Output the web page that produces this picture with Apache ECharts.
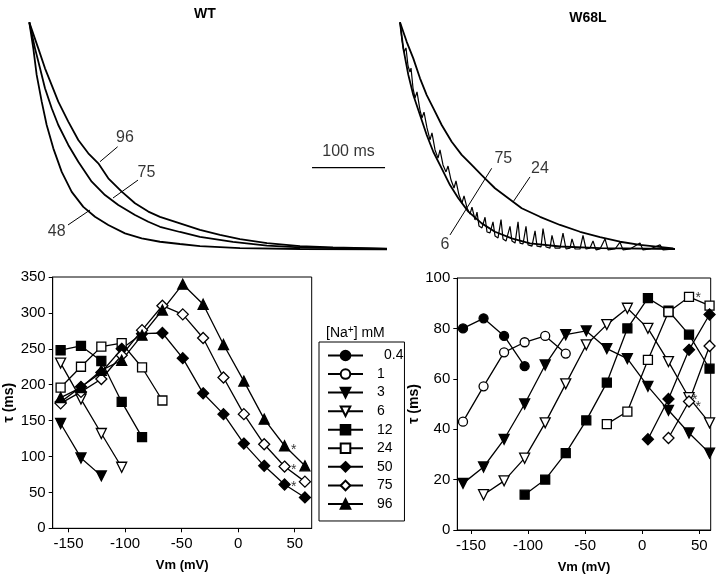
<!DOCTYPE html>
<html><head><meta charset="utf-8">
<script src="https://cdn.jsdelivr.net/npm/echarts@6/dist/echarts.min.js"></script>
<style>html,body{margin:0;padding:0;background:#fff}#c{width:720px;height:584px}</style>
</head><body><div id="c"></div>
<script>
// ---------- data ----------
const V = [-157,-139,-121,-103,-85,-67,-49,-31,-13,5,23,41,59];
const xTicks = [-150,-100,-50,0,50];
const naNames = ['0.4','1','3','6','12','24','50','75','96'];

// WT tau (ms)
const wt3  = [146, 98, 73];
const wt6  = [230, 180, 132, 85];
const wt12 = [248, 254, 233, 176, 127];
const wt24 = [196, 225, 253, 258, 224, 178];
const wt50 = [176, 197, 217, 250, 271, 272, 237, 188, 159, 118, 87, 61, 43];
const wt75 = [174, 190, 208, 241, 276, 310, 298, 265, 210, 159, 117, 86, 65];
const wt96 = [182, 196, 220, 234, 269, 304, 340, 312, 256, 205, 152, 115, 87];
const wtStars = [[49,115],[49,87],[49,63]];

// W68L tau (ms)
const m04 = [80, 84, 77, 65];
const m1  = [43, 57, 70.5, 74.5, 77, 70];
const m3  = [18.5, 25, 36, 50, 65.5, 77.5, 79, 72, 68, 57, 47.5, 38.5, 30.5];
const m6  = [null, 14, 19.5, 28.5, 42.5, 58, 73.5, 81.5, 88, 80, 66.8, 52.5, 42.5];
const m12 = [null, null, null, 14, 20, 30.5, 43.5, 58.5, 80, 92, 87, 77.5, 64];
const m24 = [null, null, null, null, null, null, null, 42, 47, 67.5, 86.5, 92.5, 89];
const m50 = [null, null, null, null, null, null, null, null, null, 36, 52, 71.5, 85.5];
const m75 = [null, null, null, null, null, null, null, null, null, null, 36.5, 51, 73];
const mStars = [[49,93.5],[46,53],[49,50.5]];

// current traces: [time (ms), normalized current]
const wtTrace96 = [[0,1],[12.3,0.885],[21.5,0.797],[30.7,0.723],[39.7,0.65],[53.4,0.562],[67.1,0.481],[80.8,0.422],[94.5,0.378],[108.2,0.312],[126.6,0.253],[144.8,0.202],[163,0.165],[179,0.142],[206.4,0.113],[233.8,0.084],[261.2,0.062],[288.6,0.044],[325.6,0.026],[370.8,0.013],[416,0.007],[490,0.002]];
const wtTrace75 = [[0,1],[7.8,0.885],[14.7,0.797],[21.5,0.709],[30.7,0.621],[39.7,0.547],[53.4,0.459],[67.1,0.385],[85.5,0.297],[103.7,0.238],[121.9,0.194],[144.8,0.15],[163,0.12],[179,0.098],[206.4,0.075],[233.8,0.053],[279,0.031],[325.6,0.015],[370.8,0.007],[490,0]];
const wtTrace48 = [[0,1],[5.5,0.885],[10.1,0.768],[17,0.65],[23.8,0.547],[32.9,0.444],[44.4,0.34],[58.1,0.252],[74,0.186],[90,0.142],[108.2,0.106],[131.1,0.069],[154,0.047],[179,0.032],[206.4,0.022],[233.8,0.013],[288.6,0.004],[370.8,0],[490,-0.002]];
const mTrace24 = [[0,1],[9.2,0.914],[18.2,0.841],[27.4,0.753],[36.6,0.679],[45.6,0.621],[57.1,0.547],[70.8,0.473],[84.5,0.415],[98.2,0.371],[111.9,0.326],[130.1,0.268],[148.4,0.224],[166.7,0.18],[191.8,0.142],[219.2,0.106],[246.6,0.076],[274,0.052],[301.4,0.032],[328.8,0.018],[374.4,0.003]];
const mTrace75 = [[0,1],[4.5,0.885],[11.4,0.768],[18.2,0.679],[27.4,0.591],[36.6,0.503],[45.6,0.429],[57.1,0.356],[68.5,0.282],[79.9,0.224],[93.6,0.165],[112,0.113],[130.1,0.076],[153,0.047],[178.1,0.025],[219.2,0.011],[274,0.004],[376.7,0]];
const mTrace6 = [[0,1],[2.7,0.922],[5.5,0.869],[8.2,0.887],[11,0.807],[13.7,0.781],[15.1,0.798],[17.8,0.71],[20.6,0.666],[23.3,0.693],[27.4,0.613],[30.1,0.578],[32.9,0.604],[37,0.534],[41.1,0.481],[43.8,0.512],[48,0.437],[52.1,0.401],[54.8,0.437],[58.9,0.371],[63,0.34],[65.8,0.366],[69.9,0.304],[74,0.269],[76.7,0.3],[80.8,0.238],[84.9,0.203],[87.7,0.234],[91.8,0.181],[95.9,0.154],[98.6,0.185],[102.8,0.128],[105.5,0.163],[108.2,0.101],[112.3,0.093],[116.5,0.14],[119.2,0.075],[123.3,0.071],[127.4,0.12],[130.2,0.057],[134.3,0.049],[138.4,0.13],[141.1,0.044],[145.2,0.035],[150.7,0.1],[153.4,0.035],[157.6,0.026],[161.7,0.12],[164.4,0.026],[168.5,0.022],[172.6,0.1],[175.4,0.018],[180.8,0.013],[185,0.08],[187.7,0.013],[193.2,0.009],[195.9,0.09],[200,0.009],[205.5,0.004],[208.2,0.06],[212.4,0.004],[219.2,0.004],[223.3,0.07],[227.4,0],[232.9,0.004],[235.6,0.045],[239.8,0],[246.6,0],[250.7,0.06],[254.8,0],[260.3,0.004],[264.4,0.035],[268.5,-0.004],[274,0],[280.9,0.045],[285,-0.004],[294.6,0],[301.4,0.03],[305.5,-0.004],[315.1,0],[328.8,0.026],[332.9,-0.004],[342.5,0],[356.2,0.018],[360.3,-0.004],[376.7,0]];

const wtTraceLabels = [[131,0.49,'96'],[160.5,0.335,'75'],[37.5,0.076,'48']];
const wtLeaders = [[[121,0.451],[96.8,0.385]],[[148.9,0.304],[114.7,0.225]],[[53,0.106],[83.2,0.172]]];
const mTraceLabels = [[141.5,0.40,'75'],[191.8,0.356,'24'],[61.6,0.018,'6']];
const mLeaders = [[[125.6,0.356],[68.5,0.062]],[[178.1,0.318],[154.8,0.207]]];
const scaleBar = [[387.3,0.359],[487.3,0.359]];
const scaleBarLabel = [[437.3,0.43,'100 ms']];

// ---------- chart ----------
const FONT = 'Liberation Sans, Arial, Helvetica, sans-serif';
const DOWN = 'path://M0,0L10,0L5,9Z';
const SYM = {
  '0.4':['circle',true,9], '1':['circle',false,9], '3':[DOWN,true,10], '6':[DOWN,false,10],
  '12':['rect',true,9], '24':['rect',false,9], '50':['diamond',true,11], '75':['diamond',false,11], '96':['triangle',true,10]
};
function pts(arr){ const r=[]; arr.forEach((v,i)=>{ if(v!==null && v!==undefined) r.push([V[i], v]); }); return r; }
function tauSeries(name, arr, gi){
  const s = SYM[name];
  return {type:'line', name, xAxisIndex:gi, yAxisIndex:gi, data:pts(arr), symbol:s[0], symbolSize:s[2],
    showSymbol:true, showAllSymbol:true, animation:false, silent:true,
    lineStyle:{color:'#000', width:1.3},
    itemStyle:{color:s[1]?'#000':'#fff', borderColor:'#000', borderWidth:1.3}, z:3};
}
function traceSeries(data, gi, w){
  return {type:'line', data, xAxisIndex:gi, yAxisIndex:gi, showSymbol:false, symbol:'none', clip:false,
    animation:false, silent:true, lineStyle:{color:'#000', width:w}};
}
function textSeries(data, gi, size, off){
  return {type:'scatter', data, xAxisIndex:gi, yAxisIndex:gi, symbolSize:1, itemStyle:{color:'rgba(0,0,0,0)'},
    animation:false, silent:true, clip:false,
    label:{show:true, position:'inside', formatter:p=>p.value[2], color:'#000', fontSize:size, fontFamily:FONT, offset:off||[0,0]}};
}
function starSeries(data, gi){
  return {type:'scatter', data:data.map(d=>[d[0],d[1],'*']), xAxisIndex:gi, yAxisIndex:gi, symbolSize:1,
    itemStyle:{color:'rgba(0,0,0,0)'}, animation:false, silent:true, clip:false,
    label:{show:true, position:'inside', formatter:'*', color:'#000', fontSize:14, fontFamily:FONT, offset:[0,4]}};
}

const hiddenAxis = (min,max)=>({type:'value', min, max, show:false});
function vAxisX(gi, min, max){
  return {type:'value', gridIndex:gi, min, max, name:'Vm (mV)', nameLocation:'middle', nameGap:31,
    nameTextStyle:{fontFamily:FONT, fontSize:13, fontWeight:'bold', color:'#000'},
    axisLine:{show:true, onZero:false, lineStyle:{color:'#000', width:1}},
    axisTick:{show:true, customValues:xTicks, length:4, inside:false, lineStyle:{color:'#000'}},
    axisLabel:{customValues:xTicks, margin:8, fontFamily:FONT, fontSize:15, color:'#000'},
    splitLine:{show:false}};
}
function tauAxisY(gi, max, interval, gap){
  return {type:'value', gridIndex:gi, min:0, max, interval, name:'τ (ms)', nameLocation:'middle', nameGap:gap,
    nameTextStyle:{fontFamily:FONT, fontSize:14, fontWeight:'bold', color:'#000'},
    axisLine:{show:true, onZero:false, lineStyle:{color:'#000', width:1}},
    axisTick:{show:true, length:4, lineStyle:{color:'#000'}},
    axisLabel:{margin:7, fontFamily:FONT, fontSize:15, color:'#000'},
    splitLine:{show:false}};
}

const chart = echarts.init(document.getElementById('c'), null, {renderer:'canvas'});
const series = [
  traceSeries(wtTrace96,0,1.8), traceSeries(wtTrace75,0,1.8), traceSeries(wtTrace48,0,1.8),
  ...wtLeaders.map(l=>traceSeries(l,0,1)),
  traceSeries(scaleBar,0,1.4),
  textSeries(wtTraceLabels,0,16), textSeries(scaleBarLabel,0,16),
  traceSeries(mTrace24,1,1.8), traceSeries(mTrace75,1,1.8), traceSeries(mTrace6,1,1.2),
  ...mLeaders.map(l=>traceSeries(l,1,1)),
  textSeries(mTraceLabels,1,16),
  // W68L tau
  tauSeries('0.4',m04,3), tauSeries('1',m1,3), tauSeries('3',m3,3), tauSeries('6',m6,3),
  tauSeries('12',m12,3), tauSeries('24',m24,3), tauSeries('50',m50,3), tauSeries('75',m75,3),
  // WT tau
  tauSeries('3',wt3,2), tauSeries('6',wt6,2), tauSeries('12',wt12,2), tauSeries('24',wt24,2),
  tauSeries('50',wt50,2), tauSeries('75',wt75,2), tauSeries('96',wt96,2),
  starSeries(wtStars,2), starSeries(mStars,3)
];

chart.setOption({
  animation:false,
  backgroundColor:'#fff',
  title:[
    {text:'WT', left:200, top:2, textAlign:'center', textStyle:{fontFamily:FONT, fontSize:14, fontWeight:'bold', color:'#000'}},
    {text:'W68L', left:583, top:6, textAlign:'center', textStyle:{fontFamily:FONT, fontSize:14, fontWeight:'bold', color:'#000'}},
    {text:'[Na{sup|+}] mM', left:321, top:320, textStyle:{fontFamily:FONT, fontSize:14, fontWeight:'normal', color:'#000',
      rich:{sup:{fontFamily:FONT, fontSize:10, verticalAlign:'top', padding:[0,0,6,0], color:'#000'}}}}
  ],
  grid:[
    {left:29.3, top:22.3, width:365, height:226.7, show:false},
    {left:400, top:22.3, width:292, height:226.7, show:false},
    {left:52.7, top:277, width:259, height:251.3, show:true, borderColor:'#000', borderWidth:1, backgroundColor:'transparent'},
    {left:457.3, top:278, width:253.4, height:252, show:true, borderColor:'#000', borderWidth:1, backgroundColor:'transparent'}
  ],
  xAxis:[
    Object.assign(hiddenAxis(0,500),{gridIndex:0}),
    Object.assign(hiddenAxis(0,400),{gridIndex:1}),
    vAxisX(2,-164,65),
    vAxisX(3,-162,60)
  ],
  yAxis:[
    Object.assign(hiddenAxis(0,1),{gridIndex:0}),
    Object.assign(hiddenAxis(0,1),{gridIndex:1}),
    tauAxisY(2,350,50,37),
    tauAxisY(3,100,20,18)
  ],
  legend:{
    data:naNames.map(n=>n==='0.4' ? {name:n, textStyle:{padding:[0,0,0,16]}} : {name:n}),
    orient:'vertical', left:319, top:342,
    itemWidth:35, itemHeight:12, itemGap:4.56,
    padding:[6.5,1,10,8], borderColor:'#000', borderWidth:1, backgroundColor:'#fff',
    selectedMode:false,
    textStyle:{fontFamily:FONT, fontSize:14, color:'#000', lineHeight:12, padding:[0,0,0,9]}
  },
  series
});
</script></body></html>
